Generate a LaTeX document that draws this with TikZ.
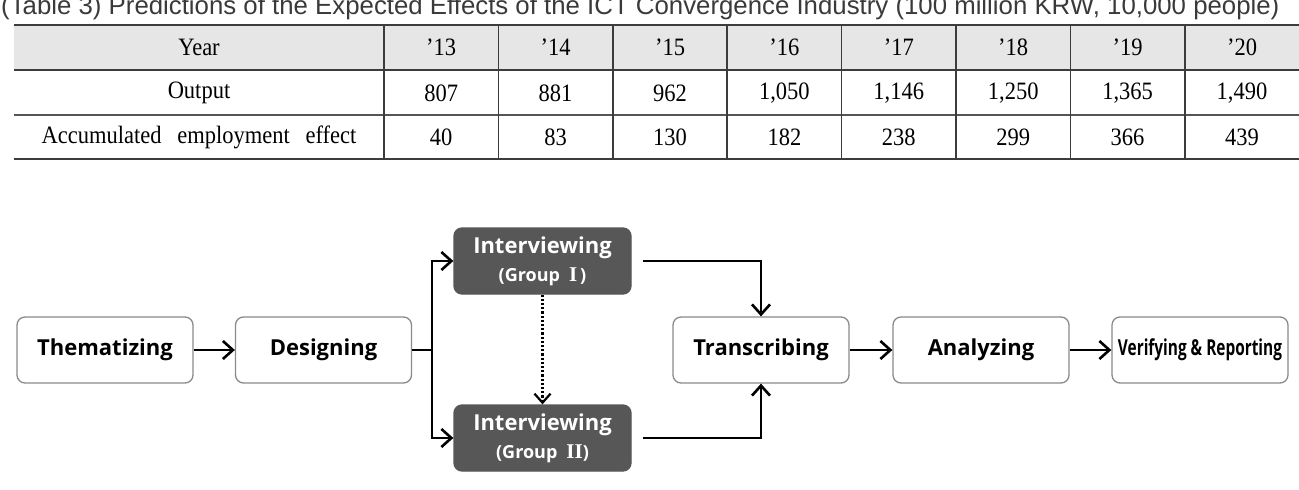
\documentclass[tikz,border=0pt]{standalone}
\usepackage{fontspec}
\setmainfont{Liberation Serif}
\newfontfamily\boxfont{Open Sans}
\newfontfamily\capfont{Liberation Sans}
\usetikzlibrary{arrows.meta}
\definecolor{tblline}{HTML}{3C3C3C}
\definecolor{rowline}{HTML}{555555}
\definecolor{hdrfill}{HTML}{E6E6E6}
\definecolor{boxline}{HTML}{8A8A8A}
\definecolor{darkbox}{HTML}{575757}
\definecolor{captext}{HTML}{3A3A3A}
\newcommand{\tcell}[1]{\scalebox{0.9}[1]{#1}}
\newcommand{\romnum}[1]{{\rmfamily\bfseries\fontsize{21}{20}\selectfont #1}}
\begin{document}
\begin{tikzpicture}[x=1pt,y=-1pt,
  proc/.style={draw=boxline, line width=1.3pt, rounded corners=8pt, fill=white,
    minimum width=176pt, minimum height=66pt, inner sep=0pt,
    font=\boxfont\bfseries\fontsize{22}{24}\selectfont},
  inter/.style={proc, fill=darkbox, draw=darkbox, text=white, align=center,
    minimum width=177pt},
  flow/.style={line width=2.6pt, line join=miter, -{Straight Barb[length=10pt,width=18pt]}},
  link/.style={line width=2.6pt, line join=miter},
  cell/.style={font=\fontsize{25}{27}\selectfont, inner sep=0pt, anchor=center},
  tline/.style={draw=rowline, line width=1.4pt},
  tthick/.style={draw=tblline, line width=2.2pt}
]
\useasboundingbox (0,0) rectangle (1299,490);

% caption (cut at top, as in the reference)
\node[anchor=base west, inner sep=0pt, text=captext, font=\capfont\fontsize{25.8}{28}\selectfont] (cap) at (1,14)
  {(Table 3) Predictions of the Expected Effects of the ICT Convergence Industry (100 million KRW, 10,000 people)};

% table
\fill[hdrfill] (14,25) rectangle (1300,70);
\draw[tthick] (14,25) -- (1300,25);
\draw[tthick] (14,70) -- (1300,70);
\draw[tline] (14,115) -- (1300,115);
\draw[tthick] (14,159) -- (1300,159);
\foreach \x in {384,498.4,612.8,727.2,841.6,956,1070.4,1184.8}
  \draw[draw=tblline, line width=1.6pt] (\x,25) -- (\x,159);

\node[cell] (hy) at (199,47) {\tcell{Year}};
\node[cell] (ho) at (199,93) {\tcell{Output}};
\node[cell] (ha) at (199,137) {\tcell{Accumulated\hspace{0.7em}employment\hspace{0.7em}effect}};

\foreach \lab [count=\i from 0] in {’13,’14,’15,’16,’17,’18,’19,’20}
  \node[cell] (y\i) at ({441.2+114.4*\i},47) {\tcell{\lab}};
\foreach \v [count=\i from 0] in {807,881,962,{1,050},{1,146},{1,250},{1,365},{1,490}}
  \node[cell] (o\i) at ({441.2+114.4*\i},93) {\tcell{\v}};
\foreach \v [count=\i from 0] in {40,83,130,182,238,299,366,439}
  \node[cell] (a\i) at ({441.2+114.4*\i},137) {\tcell{\v}};

% flowchart
\node[proc] (them) at (105,350) {Thematizing};
\node[proc] (des) at (323.5,350) {Designing};
\node[inter] (int1) at (542.5,261) {Interviewing\\[4pt]{\fontsize{18}{20}\selectfont(Group\,\,\,\romnum{I}\,)}};
\node[inter] (int2) at (542.5,438) {Interviewing\\[4pt]{\fontsize{18}{20}\selectfont(Group\,\,\,\romnum{II})}};
\node[proc] (trans) at (761,350) {Transcribing};
\node[proc] (anal) at (981,350) {Analyzing};
\node[proc] (verif) at (1200,350) {\scalebox{0.7}[1]{Verifying \& Reporting}};

\coordinate (split) at (432,350);
\draw[flow] (them) -- (des);
\draw[link] (des.east) -- (split);
\draw[flow] (split) |- (int1.west);
\draw[flow] (split) |- (int2.west);
\draw[line width=2.2pt, dotted, -{Straight Barb[length=9pt,width=16pt,line width=2.2pt]}] (int1.south) -- (int2.north);
\draw[flow] ([xshift=11pt]int1.east) -| (trans.north);
\draw[flow] ([xshift=11pt]int2.east) -| (trans.south);
\draw[flow] (trans) -- (anal);
\draw[flow] (anal) -- (verif);
\end{tikzpicture}
\end{document}
